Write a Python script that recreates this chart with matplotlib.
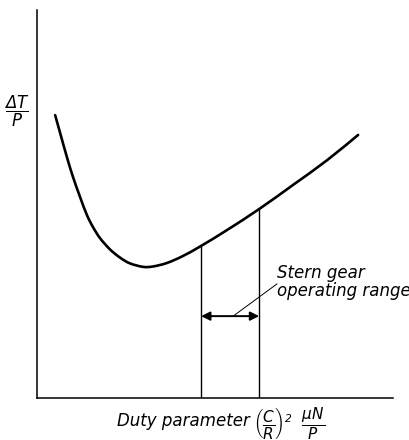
import matplotlib
matplotlib.use("Agg")
import matplotlib.pyplot as plt
from matplotlib.path import Path
from matplotlib.patches import PathPatch

# Temperature-rise curve against duty parameter (arbitrary units)
duty = [0.51, 0.65, 0.84, 1.01, 1.21, 1.40, 1.57, 1.77, 2.05, 2.33, 2.61,
        2.98, 3.26, 3.65, 4.10, 4.61, 5.34, 6.24, 7.19, 8.15, 9.02]
temp_rise = [7.29, 6.83, 6.21, 5.70, 5.18, 4.72, 4.41, 4.12, 3.83, 3.62, 3.47,
             3.38, 3.39, 3.48, 3.66, 3.92, 4.33, 4.87, 5.49, 6.13, 6.78]

# Operating range bounds (indices into the curve) and arrow height
range_lo_idx = 15
range_hi_idx = 17
arrow_level = 2.11

plt.rcParams["mathtext.fontset"] = "custom"
plt.rcParams["mathtext.rm"] = "DejaVu Sans:italic"
plt.rcParams["mathtext.it"] = "DejaVu Sans:italic"
plt.rcParams["mathtext.sf"] = "DejaVu Sans:italic"


def smooth_path(xs, ys):
    """Catmull-Rom curve through the points, as cubic Bezier segments."""
    pts = list(zip(xs, ys))
    verts = [pts[0]]
    codes = [Path.MOVETO]
    n = len(pts)
    for i in range(n - 1):
        p0 = pts[i - 1] if i > 0 else pts[i]
        p1 = pts[i]
        p2 = pts[i + 1]
        p3 = pts[i + 2] if i + 2 < n else pts[i + 1]
        c1 = (p1[0] + (p2[0] - p0[0]) / 6, p1[1] + (p2[1] - p0[1]) / 6)
        c2 = (p2[0] - (p3[0] - p1[0]) / 6, p2[1] - (p3[1] - p1[1]) / 6)
        verts += [c1, c2, p2]
        codes += [Path.CURVE4] * 3
    return Path(verts, codes)


fig = plt.figure(figsize=(4.1, 4.4), dpi=100)
ax = fig.add_axes([37 / 410, 42 / 440, 356 / 410, 388 / 440])
ax.set_xlim(0, 10)
ax.set_ylim(0, 10)
for side in ("top", "right"):
    ax.spines[side].set_visible(False)
for side in ("left", "bottom"):
    ax.spines[side].set_linewidth(1.1)
ax.set_xticks([])
ax.set_yticks([])

ax.add_patch(PathPatch(smooth_path(duty, temp_rise), facecolor="none",
                       edgecolor="black", lw=1.9, capstyle="round"))

x_lo, x_hi = duty[range_lo_idx], duty[range_hi_idx]
ax.plot([x_lo, x_lo], [0, temp_rise[range_lo_idx]], color="black", lw=1.0)
ax.plot([x_hi, x_hi], [0, temp_rise[range_hi_idx]], color="black", lw=1.0)

ax.annotate("", xy=(x_lo, arrow_level), xytext=(x_hi, arrow_level),
            arrowprops=dict(arrowstyle="<|-|>", color="black", lw=1.4,
                            mutation_scale=13, shrinkA=0, shrinkB=0))

# Leader from the label to the arrow
ax.plot([5.51, 6.74], [arrow_level, 2.94], color="black", lw=0.7)
ax.text(6.74, 2.98, "Stern gear\noperating range", fontsize=12,
        style="italic", ha="left", va="center", linespacing=1.0)

fig.text(17 / 410, 1 - 111 / 440, r"$\dfrac{\Delta T}{P}$", fontsize=12,
         ha="center", va="center")
fig.text(117 / 410, 1 - 421 / 440, "Duty parameter", fontsize=12,
         style="italic", ha="left", va="center")
fig.text(253 / 410, 1 - 423 / 440,
         r"$\left(\dfrac{C}{R}\right)^{2}\ \ \dfrac{\mu N}{P}$",
         fontsize=11, ha="left", va="center")

fig.savefig("out.png", dpi=100)
